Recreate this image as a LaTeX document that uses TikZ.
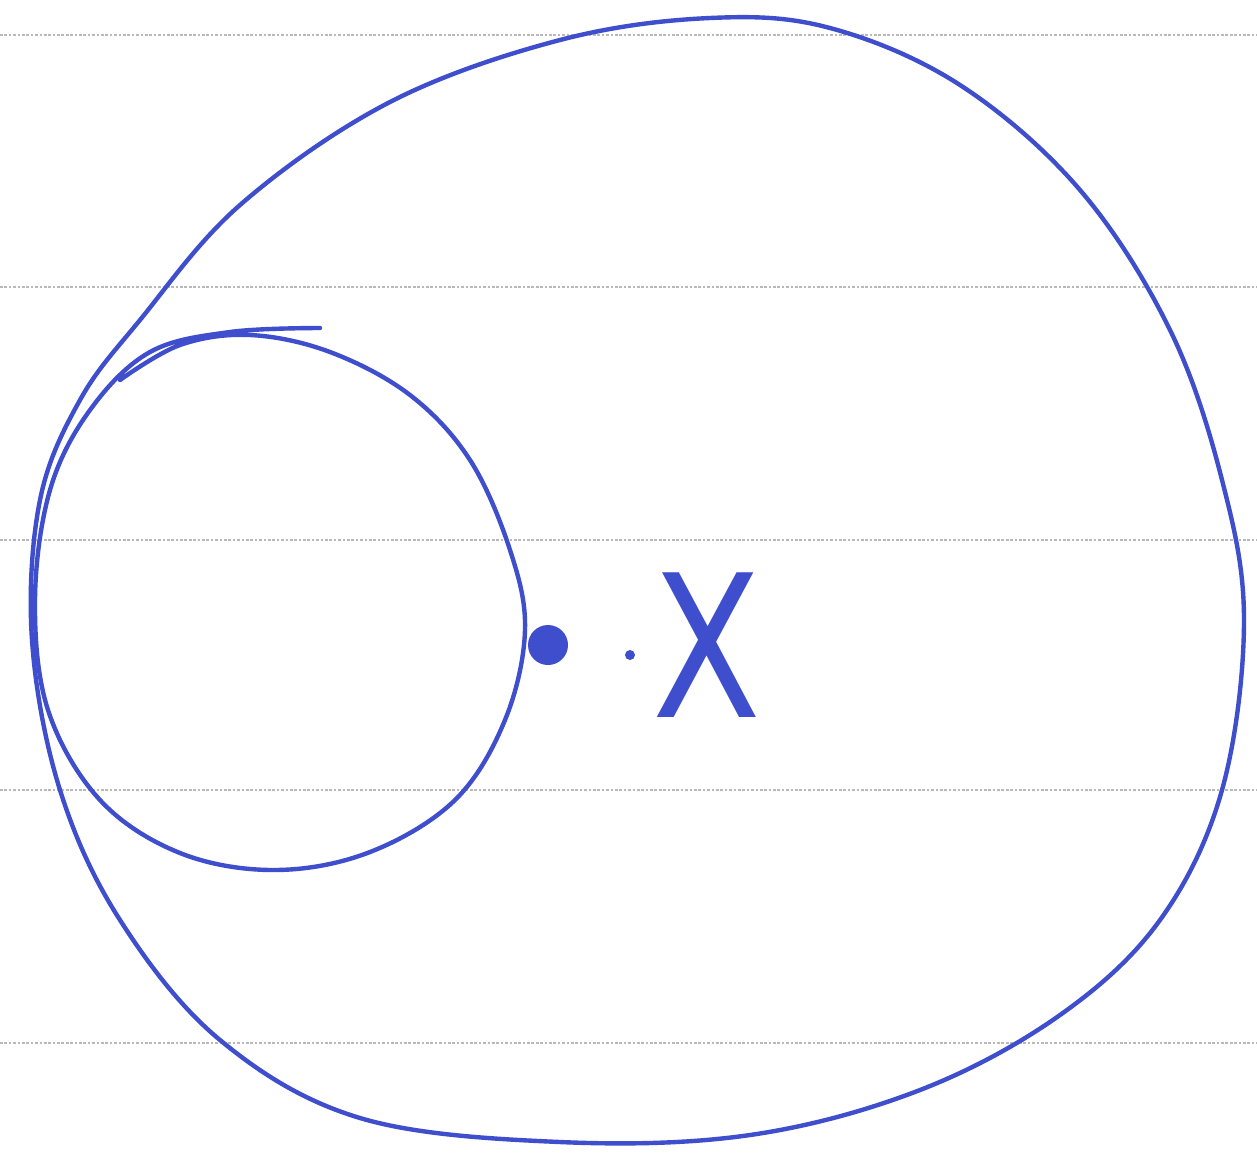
\documentclass[tikz,border=0pt]{standalone}
\usepackage{fontspec}
\setsansfont{DejaVu Sans}
\begin{document}
\begin{tikzpicture}[x=0.02cm,y=-0.02cm,
  pen/.style={draw=penblue, line width=2.5pt, line cap=round, line join=round},
  rule/.style={draw=gray!55, line width=1.2pt, dash pattern=on 1.5pt off 1pt}]
\definecolor{penblue}{RGB}{62,78,205}
\useasboundingbox[fill=white] (0,0) rectangle (1257,1154);
% ruled lines
\foreach \yy in {35,287,540,790,1043}
  \draw[rule] (0,\yy) -- (1257,\yy);
% big circle
\draw[pen] plot[smooth cycle, tension=0.6] coordinates {
 (710,18) (830,28) (960,85) (1080,190) (1170,330) (1222,480) (1244,620)
 (1222,790) (1160,920) (1060,1015) (920,1090) (750,1135) (560,1142)
 (360,1118) (220,1040) (120,920) (60,790) (32,640) (40,500) (80,400)
 (140,320) (240,205) (390,102) (560,40)};
% small circle
\draw[pen] plot[smooth, tension=0.6] coordinates {
 (320,328) (230,332) (150,352) (90,410) (50,490) (35,600) (48,710)
 (100,800) (180,853) (275,870) (370,852) (455,800) (505,720) (525,630)
 (510,550) (470,460) (410,395) (330,352) (250,335) (180,345) (120,380)};
% points
\node[circle, fill=penblue, inner sep=0pt, minimum size=0.8cm] (p) at (548,645) {};
\node[circle, fill=penblue, inner sep=0pt, minimum size=0.2cm] (q) at (630,655) {};
\node[text=penblue, inner sep=0pt, xscale=0.8] (x) at (707,645) {\fontsize{113}{113}\selectfont\sffamily X};
\end{tikzpicture}
\end{document}
